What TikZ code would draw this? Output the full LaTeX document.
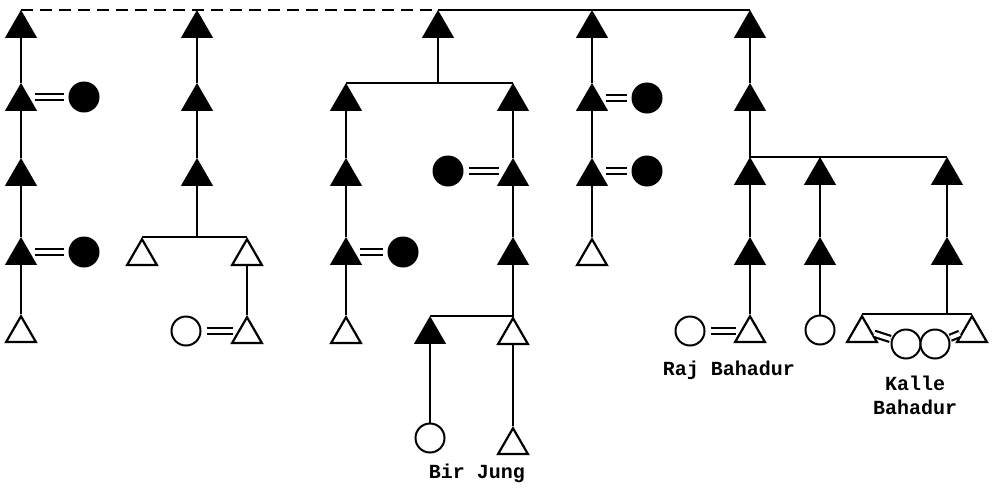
\documentclass[tikz,border=0pt]{standalone}
\usepackage{fontspec}
\setmonofont{Liberation Mono}
\usepackage{tikz}
\usetikzlibrary{shapes.geometric}

\begin{document}
\begin{tikzpicture}[x=1pt,y=-1pt,line width=2pt,
    male/.style={regular polygon,regular polygon sides=3,minimum size=34.5pt,
      inner sep=0pt,draw,fill=black,anchor=north,line width=1.4pt},
    mopen/.style={male,fill=white,line width=2.2pt},
    fem/.style={circle,minimum size=29pt,inner sep=0pt,draw,fill=black},
    fopen/.style={fem,fill=white},
    wed/.style={double,double distance=4pt,line width=2.2pt,
      shorten <=14pt,shorten >=5pt},
    lbl/.style={font=\ttfamily\bfseries\fontsize{20}{24}\selectfont,
      align=center,inner sep=0pt}]
  \useasboundingbox (0,0) rectangle (993,488);

  % first line
  \foreach \r/\y in {1/10,2/83,3/158,4/237}
    \node[male] (a\r) at (21,\y) {};
  \node[mopen] (a5) at (21,314) {};
  \node[fem] (wa2) at (84,97) {};
  \node[fem] (wa4) at (84,252) {};

  % second line
  \foreach \r/\y in {1/10,2/83,3/158}
    \node[male] (b\r) at (197,\y) {};
  \node[mopen] (b4) at (142,237) {};
  \node[mopen] (b5) at (247,237) {};
  \node[mopen] (b6) at (247,315) {};
  \node[fopen] (wb6) at (186,331) {};

  % third line, two brothers
  \node[male] (c0) at (438,10) {};
  \foreach \r/\y in {1/83,2/158,3/237}{
    \node[male] (c\r) at (346,\y) {};
    \node[male] (d\r) at (513,\y) {};
  }
  \node[mopen] (c4) at (346,315) {};
  \node[fem] (wc3) at (403,252) {};
  \node[fem] (wd2) at (448,171) {};
  \node[male] (d4) at (430,316) {};
  \node[mopen] (d5) at (513,316) {};
  \node[fopen] (d6) at (430,438) {};
  \node[mopen] (d7) at (513,426) {};

  % fourth line
  \foreach \r/\y in {0/10,1/83,2/158}
    \node[male] (f\r) at (592,\y) {};
  \node[mopen] (f3) at (592,237) {};
  \node[fem] (wf1) at (647,98) {};
  \node[fem] (wf2) at (647,171) {};

  % fifth line, three brothers
  \node[male] (g0) at (750,10) {};
  \node[male] (g1) at (750,83) {};
  \foreach \x/\p in {750/g,820/h,947/k}{
    \node[male] (\p2) at (\x,157) {};
    \node[male] (\p3) at (\x,237) {};
  }
  \node[mopen] (g4) at (750,314) {};
  \node[fopen] (wg4) at (690,331) {};
  \node[fopen] (h4) at (820,330) {};
  \node[mopen] (k4) at (862,314) {};
  \node[mopen] (k5) at (972,314) {};
  \node[fopen] (wk4) at (906,344) {};
  \node[fopen] (wk5) at (935,344) {};

  % names
  \node[lbl] (raj) at (729,370) {Raj Bahadur};
  \node[lbl] (bir) at (477,473) {Bir Jung};
  \node[lbl] (kalle) at (915,395) {Kalle\\Bahadur};

  % descent
  \draw[dash pattern=on 12pt off 7pt] (a1.north) -- (c0.north);
  \draw (c0.north) -- (g0.north);
  \foreach \u/\v in {a1/a2,a2/a3,a3/a4,a4/a5,b1/b2,b2/b3,b5/b6,
      c1/c2,c2/c3,c3/c4,d1/d2,d2/d3,d4/d6,d5/d7,f0/f1,f1/f2,f2/f3,
      g0/g1,g2/g3,g3/g4,h2/h3,h3/h4,k2/k3}
    \draw (\u.south) -- (\v.north);
  \draw (b3.south) |- (b4.north);
  \draw (b3.south) |- (b5.north);
  \draw (c0.south) |- (c1.north);
  \draw (c0.south) |- (d1.north);
  \draw (d3.south) -- (d5.north) -- (d4.north);
  \draw (g1.south) -- (g2.north) -- (k2.north);
  \draw (k3.south) |- (k4.north);
  \draw (k3.south) |- (k5.north);

  % marriages, husband first
  \foreach \u/\v in {a2/wa2,a4/wa4,b6/wb6,c3/wc3,d2/wd2,f1/wf1,f2/wf2,g4/wg4}
    \draw[wed] (\u.center |- \v.center) -- (\v);
  \draw[wed,shorten <=1pt,shorten >=1pt] (k4.east) -- (wk4);
  \draw[wed,shorten <=1pt,shorten >=1pt] (wk5) -- (k5.west);
\end{tikzpicture}
\end{document}
